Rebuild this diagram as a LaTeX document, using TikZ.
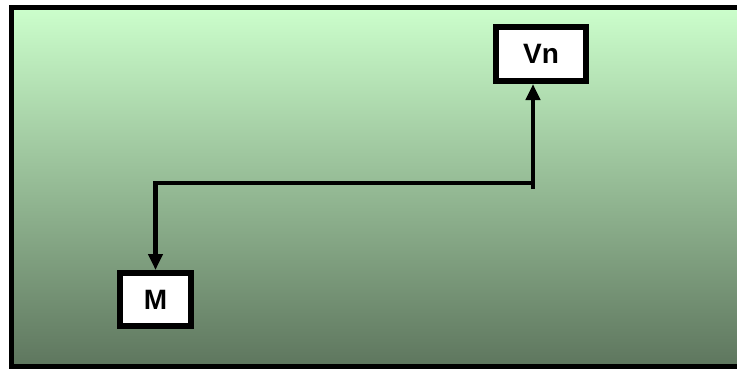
\documentclass[tikz,border=0pt]{standalone}
\usepackage{fontspec}
\setmainfont{Liberation Sans}
\newfontfamily\boxfont{Liberation Sans Bold}
\usetikzlibrary{arrows.meta}
\definecolor{topgreen}{RGB}{204,255,204}
\definecolor{botgreen}{RGB}{94,118,94}
\tikzset{
  box/.style={draw=black, fill=white, line width=6pt, inner sep=0pt,
    font=\boxfont\fontsize{28pt}{32pt}\selectfont},
  conn/.style={line width=4.5pt, draw=black},
  tip/.style={-{Triangle[length=16pt,width=14pt]}}
}
\begin{document}
\begin{tikzpicture}[x=1pt,y=-1pt]
\useasboundingbox (0,0) rectangle (737,368);
\draw[line width=5pt, top color=topgreen, bottom color=botgreen] (11.5,7) rectangle (750,366);
\node[box, minimum width=90pt, minimum height=54pt] (vn) at (541,54) {Vn};
\node[box, minimum width=71pt, minimum height=53pt] (m) at (155.5,299.5) {M};
\coordinate (tick) at (533,189);
\coordinate (turnR) at (533,183);
\coordinate (turnL) at (155.5,183);
\draw[conn, tip] (tick) -- (vn.south -| tick);
\draw[conn, tip] (turnR) -- (turnL) -- (m.north);
\end{tikzpicture}
\end{document}
